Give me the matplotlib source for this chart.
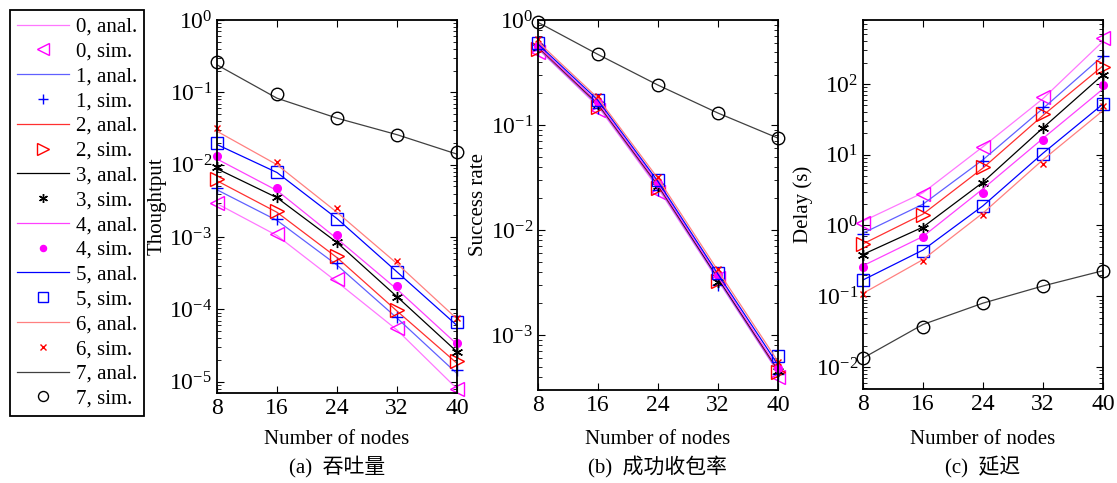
import numpy as np
import matplotlib
matplotlib.use('Agg')
import matplotlib.pyplot as plt
from matplotlib.lines import Line2D

plt.rcParams['font.family'] = ['Liberation Serif', 'Noto Sans CJK SC']
plt.rcParams['mathtext.fontset'] = 'stix'
plt.rcParams['font.size'] = 15
plt.rcParams['xtick.labelsize'] = 17
plt.rcParams['ytick.labelsize'] = 17

nodes = [8, 16, 24, 32, 40]

# throughput, rows = class 0..7
thr_anal = [[2.9e-3, 1.05e-3, 2.4e-4, 5.2e-5, 8.0e-6],
            [4.5e-3, 1.7e-3, 4.1e-4, 7.6e-5, 1.3e-5],
            [6.0e-3, 2.2e-3, 5.2e-4, 9.5e-5, 1.8e-5],
            [8.8e-3, 3.5e-3, 8.4e-4, 1.5e-4, 2.6e-5],
            [1.2e-2, 4.4e-3, 9.5e-4, 1.9e-4, 3.3e-5],
            [1.9e-2, 7.8e-3, 1.8e-3, 3.3e-4, 6.0e-5],
            [2.9e-2, 1.0e-2, 2.2e-3, 4.3e-4, 7.4e-5],
            [0.24, 0.083, 0.044, 0.026, 0.014]]
thr_sim = [[3.0e-3, 1.1e-3, 2.6e-4, 5.6e-5, 7.9e-6],
           [4.7e-3, 1.8e-3, 4.4e-4, 7.8e-5, 1.45e-5],
           [6.3e-3, 2.3e-3, 5.5e-4, 9.8e-5, 1.95e-5],
           [9.3e-3, 3.6e-3, 8.5e-4, 1.5e-4, 2.6e-5],
           [1.3e-2, 4.7e-3, 1.07e-3, 2.1e-4, 3.4e-5],
           [2.0e-2, 8.0e-3, 1.8e-3, 3.3e-4, 6.6e-5],
           [3.2e-2, 1.1e-2, 2.5e-3, 4.6e-4, 7.6e-5],
           [0.26, 0.094, 0.044, 0.026, 0.015]]

# success rate
succ_anal = [[0.53, 0.15, 0.025, 0.0033, 4.4e-4],
             [0.54, 0.155, 0.026, 0.0034, 4.5e-4],
             [0.55, 0.158, 0.0265, 0.0035, 4.6e-4],
             [0.56, 0.16, 0.027, 0.0035, 4.7e-4],
             [0.565, 0.163, 0.0275, 0.0036, 4.8e-4],
             [0.59, 0.172, 0.029, 0.0038, 5.2e-4],
             [0.62, 0.18, 0.031, 0.0041, 5.6e-4],
             [0.95, 0.47, 0.24, 0.13, 0.075]]
succ_sim = [[0.50, 0.14, 0.023, 0.0035, 4.0e-4],
            [0.52, 0.145, 0.024, 0.0030, 4.3e-4],
            [0.53, 0.15, 0.025, 0.0033, 4.5e-4],
            [0.55, 0.157, 0.026, 0.0032, 4.6e-4],
            [0.57, 0.165, 0.028, 0.0037, 4.9e-4],
            [0.60, 0.174, 0.030, 0.0039, 6.3e-4],
            [0.66, 0.19, 0.032, 0.0043, 5.6e-4],
            [0.95, 0.47, 0.24, 0.13, 0.075]]

# delay (s)
delay_anal = [[1.15, 2.9, 13, 62, 400],
              [0.78, 2.0, 8.5, 45, 250],
              [0.55, 1.45, 6.5, 36, 180],
              [0.39, 0.95, 4.1, 24, 135],
              [0.27, 0.70, 3.3, 17, 85],
              [0.17, 0.45, 1.9, 10.5, 52],
              [0.11, 0.33, 1.5, 8.5, 42],
              [0.0134, 0.040, 0.080, 0.14, 0.23]]
delay_sim = [[1.1, 2.8, 13, 66, 450],
             [0.75, 1.9, 8.2, 47, 250],
             [0.54, 1.4, 6.6, 38, 175],
             [0.38, 0.93, 4.0, 24, 135],
             [0.26, 0.68, 2.9, 16, 97],
             [0.17, 0.43, 1.9, 10.3, 52],
             [0.107, 0.32, 1.4, 7.5, 48],
             [0.0134, 0.037, 0.080, 0.14, 0.23]]

line_col = ['#ff77ff', '#6060ff', '#ff3030', 'black', '#ff40ff', '#0000ff', '#ff8080', '#404040']
mk_col = ['#ff00ff', '#0000ff', '#ff0000', 'black', '#ff00ff', '#0000ff', '#ff0000', 'black']
mk = ['<', '+', '>', (6, 2, 0), 'o', 's', 'x', 'o']
ms = [10, 9, 10, 8, 5.5, 9, 5, 9]
filled = [False, True, False, True, True, False, True, False]

W, H = 1117, 483
fig = plt.figure(figsize=(W/100, H/100), dpi=100)

def box(l, r, t, b):
    return [l/W, 1-b/H, (r-l)/W, (b-t)/H]

panels = [
    (box(217, 457, 20, 393), thr_anal, thr_sim, (7e-6, 1), 'Thoughtput', '(a)  吞吐量'),
    (box(538, 778, 20, 390), succ_anal, succ_sim, (3e-4, 1), 'Success rate', '(b)  成功收包率'),
    (box(863, 1103, 20, 389), delay_anal, delay_sim, (4.9e-3, 800), 'Delay (s)', '(c)  延迟'),
]

for pos, anal, sim, ylim, ylab, cap in panels:
    ax = fig.add_axes(pos)
    for i in range(8):
        ax.plot(nodes, anal[i], color=line_col[i], lw=0.9)
        ax.plot(nodes, sim[i], ls='', marker=mk[i], ms=ms[i], color=mk_col[i],
                mfc=mk_col[i] if filled[i] else 'none', mew=1.0, clip_on=False)
    ax.set_yscale('log')
    ax.set_xlim(8, 40)
    ax.set_ylim(*ylim)
    ax.set_xticks(nodes)
    ax.set_ylabel(ylab, labelpad=2)
    ax.tick_params(which='both', direction='in', top=True, right=True)
    ax.tick_params(which='major', length=5)
    ax.tick_params(which='minor', length=3)
    for s in ax.spines.values():
        s.set_linewidth(1.3)
    xc = pos[0] + pos[2]/2
    fig.text(xc, 1-440/H, 'Number of nodes', ha='center', va='center')
    fig.text(xc, 1-467/H, cap, ha='center', va='center')

handles, labels = [], []
for i in range(8):
    handles.append(Line2D([], [], color=line_col[i], lw=0.9))
    labels.append('%d, anal.' % i)
    handles.append(Line2D([], [], ls='', marker=mk[i], ms=ms[i]*0.8, color=mk_col[i],
                          mfc=mk_col[i] if filled[i] else 'none'))
    labels.append('%d, sim.' % i)

leg = fig.legend(handles, labels, loc='upper left', bbox_to_anchor=(10/W, 1-10/H),
                 fancybox=False, edgecolor='black', framealpha=1, handlelength=2.5,
                 labelspacing=0.25, borderpad=0.35, handletextpad=0.3, borderaxespad=0)
leg.get_frame().set_linewidth(1.3)

fig.savefig('out.png', dpi=100)
